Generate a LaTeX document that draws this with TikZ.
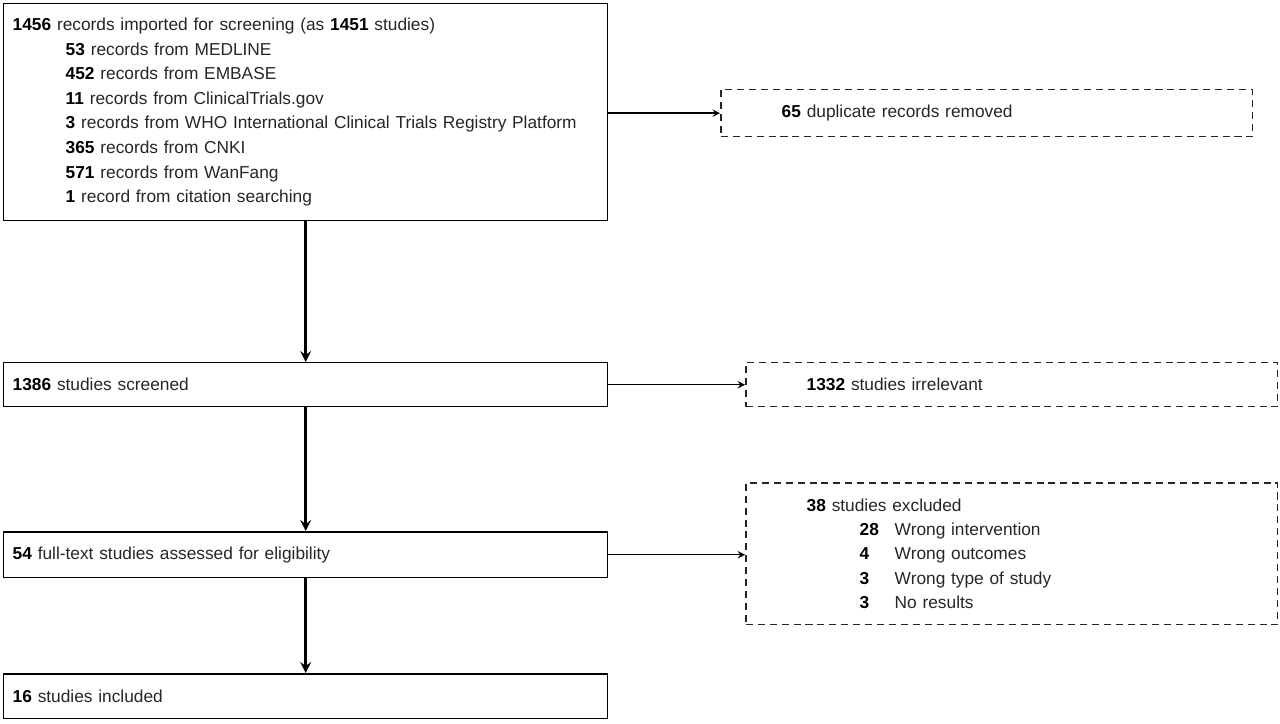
\documentclass[tikz,border=0pt]{standalone}
\usepackage{fontspec}
\setmainfont{Liberation Sans}
\begin{document}
\begin{tikzpicture}[x=0.02cm,y=-0.02cm,line cap=butt,line join=miter,>=stealth,
		font=\fontsize{9.85}{14}\selectfont,text=black!85]
			\tikzset{mainbox/.style={draw=black,line width=0.85pt,anchor=north west,
					inner xsep=0.18cm,inner ysep=0pt,text width=11.72cm,align=left},
				sidebox/.style={draw=black!85,line width=0.85pt,dash pattern=on 4pt off 2.8pt,
					anchor=north west,inner xsep=1.22cm,inner ysep=0pt,text width=8.2cm,align=left},
				flow/.style={->,line width=1.7pt},
				side/.style={->,line width=0.85pt}
			}
			\useasboundingbox (0,0) rectangle (1280,723);
			% left column
			\node[mainbox,minimum height=4.34cm] (records) at (3,3)
				{\textbf{\color{black}1456} records imported for screening (as \textbf{\color{black}1451} studies)\\
				\hspace*{1.06cm}\textbf{\color{black}53} records from MEDLINE\\
				\hspace*{1.06cm}\textbf{\color{black}452} records from EMBASE\\
				\hspace*{1.06cm}\textbf{\color{black}11} records from ClinicalTrials.gov\\
				\hspace*{1.06cm}\textbf{\color{black}3} records from WHO International Clinical Trials Registry Platform\\
				\hspace*{1.06cm}\textbf{\color{black}365} records from CNKI\\
				\hspace*{1.06cm}\textbf{\color{black}571} records from WanFang\\
				\hspace*{1.06cm}\textbf{\color{black}1} record from citation searching};
			\node[mainbox,minimum height=0.88cm] (screened) at (3,362)
				{\textbf{\color{black}1386} studies screened};
			\node[mainbox,minimum height=0.92cm] (assessed) at (3,531)
				{\textbf{\color{black}54} full-text studies assessed for eligibility};
			\node[mainbox,minimum height=0.9cm] (included) at (3,673)
				{\textbf{\color{black}16} studies included};
			% right column
			\node[sidebox,minimum height=0.94cm] (duplicates) at (720,89)
				{\textbf{\color{black}65} duplicate records removed};
			\node[sidebox,minimum height=0.88cm] (irrelevant) at (745,362)
				{\textbf{\color{black}1332} studies irrelevant};
			\node[sidebox,minimum height=2.84cm,font=\fontsize{9.85}{13.8}\selectfont] (excluded) at (745,482)
				{\textbf{\color{black}38} studies excluded\\
				\hspace*{1.06cm}\makebox[0.7cm][l]{\textbf{\color{black}28}}Wrong intervention\\
				\hspace*{1.06cm}\makebox[0.7cm][l]{\textbf{\color{black}4}}Wrong outcomes\\
				\hspace*{1.06cm}\makebox[0.7cm][l]{\textbf{\color{black}3}}Wrong type of study\\
				\hspace*{1.06cm}\makebox[0.7cm][l]{\textbf{\color{black}3}}No results};
			% connectors
			\draw[flow] (records.south)--(screened.north);
			\draw[flow] (screened.south)--(assessed.north);
			\draw[flow] (assessed.south)--(included.north);
			\draw[side] (duplicates.west -| records.east)--(duplicates.west);
			\draw[side] (screened.east)--(screened.east -| irrelevant.west);
			\draw[side] (assessed.east)--(assessed.east -| excluded.west);
		\end{tikzpicture}
\end{document}
